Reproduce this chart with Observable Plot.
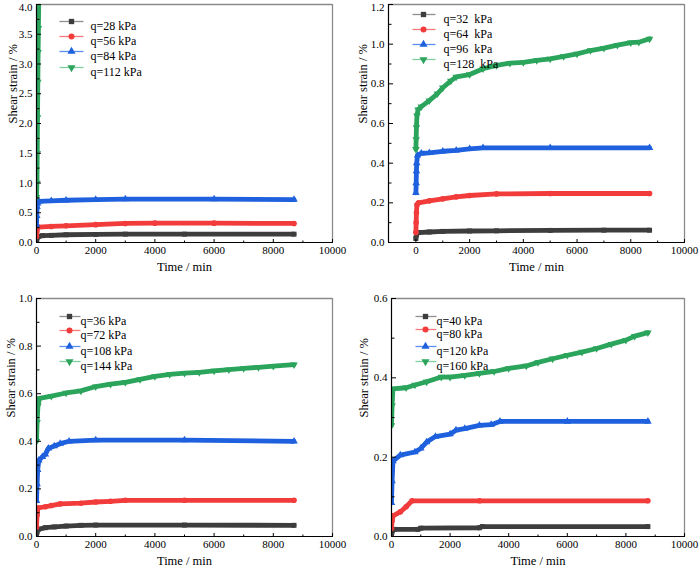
<!DOCTYPE html>
<html>
<head>
<meta charset="utf-8">
<script src="https://cdn.jsdelivr.net/npm/d3@7"></script>
<script src="https://cdn.jsdelivr.net/npm/@observablehq/plot@0.6"></script>
<style>
  body { margin: 0; background: #fff; }
  #wrap { position: relative; width: 700px; height: 569px; overflow: hidden; background: #fff; }
  .panel { position: absolute; }
  .panel svg { max-width: none; overflow: visible; }
</style>
</head>
<body>
<div id="wrap"></div>
<script>
// ---------- Data: [time (min), shear strain (%)] ----------
// Panel (a)
const a_q28 = [[0,0.0],[10,0.05],[30,0.09],[60,0.10],[200,0.115],[500,0.12],[1000,0.13],[2000,0.135],[3000,0.14],[5000,0.14],[8700,0.14]];
const a_q56 = [[0,0.10],[10,0.18],[30,0.24],[60,0.26],[500,0.27],[1000,0.28],[2000,0.30],[3000,0.32],[4000,0.325],[6000,0.325],[8700,0.32]];
const a_q84 = [[0,0.30],[10,0.45],[20,0.60],[40,0.66],[80,0.69],[500,0.70],[1000,0.71],[2000,0.72],[3000,0.73],[6000,0.73],[8700,0.72]];
const a_q112 = [[0,0.76],[15,1.0],[25,1.5],[35,2.1],[45,2.7],[55,3.2],[65,3.6],[75,4.0],[85,4.3]];
// Panel (b)
const b_q32 = [[0,0.02],[20,0.04],[100,0.05],[500,0.053],[1000,0.056],[2000,0.058],[3000,0.059],[5000,0.061],[7000,0.062],[8700,0.062]];
const b_q64 = [[0,0.05],[10,0.10],[20,0.15],[40,0.19],[100,0.20],[500,0.21],[1000,0.22],[1500,0.23],[2000,0.237],[3000,0.245],[5000,0.247],[8700,0.247]];
const b_q96 = [[0,0.25],[10,0.30],[20,0.36],[30,0.40],[60,0.44],[200,0.45],[500,0.452],[1000,0.46],[1500,0.465],[2000,0.472],[2500,0.477],[5000,0.477],[8700,0.477]];
const b_q128 = [[0,0.47],[10,0.52],[20,0.58],[40,0.64],[80,0.67],[200,0.685],[500,0.715],[800,0.75],[1000,0.78],[1300,0.815],[1500,0.835],[2000,0.847],[2500,0.876],[3000,0.893],[3500,0.904],[4000,0.908],[4500,0.918],[5000,0.926],[5500,0.938],[6000,0.951],[6500,0.968],[7000,0.98],[7500,0.995],[8000,1.008],[8300,1.01],[8700,1.027]];
// Panel (c)
const c_q36 = [[0,0.0],[20,0.02],[60,0.03],[300,0.037],[600,0.04],[1000,0.044],[1500,0.047],[2000,0.048],[5000,0.048],[8700,0.047]];
const c_q72 = [[0,0.04],[20,0.09],[50,0.12],[300,0.125],[500,0.13],[800,0.137],[1500,0.14],[2000,0.145],[2500,0.148],[3000,0.152],[5000,0.152],[8700,0.152]];
const c_q108 = [[0,0.15],[20,0.22],[40,0.28],[80,0.32],[200,0.335],[300,0.345],[400,0.37],[600,0.38],[800,0.39],[1100,0.40],[2000,0.405],[5000,0.405],[8700,0.40]];
const c_q144 = [[0,0.40],[20,0.48],[50,0.55],[100,0.58],[500,0.59],[1000,0.603],[1500,0.612],[2000,0.63],[2500,0.64],[3000,0.648],[3500,0.66],[4000,0.673],[4500,0.681],[5000,0.686],[5500,0.69],[6000,0.696],[6500,0.701],[7000,0.706],[7500,0.711],[8000,0.716],[8700,0.722]];
// Panel (d)
const d_q40 = [[0,0.0],[30,0.015],[100,0.018],[900,0.018],[1000,0.021],[3000,0.022],[3100,0.025],[8750,0.025]];
const d_q80 = [[0,0.02],[20,0.04],[50,0.052],[300,0.062],[500,0.075],[700,0.09],[3000,0.09],[8750,0.09]];
const d_q120 = [[0,0.085],[20,0.14],[50,0.19],[300,0.205],[800,0.213],[1000,0.222],[1200,0.238],[1500,0.252],[2000,0.258],[2200,0.268],[2500,0.272],[3000,0.28],[3400,0.282],[3700,0.29],[6000,0.29],[8750,0.29]];
const d_q160 = [[0,0.28],[20,0.33],[50,0.372],[500,0.375],[800,0.382],[1200,0.39],[1700,0.402],[2000,0.402],[2500,0.406],[3000,0.411],[3500,0.416],[4000,0.424],[4600,0.43],[5000,0.439],[5500,0.448],[6000,0.457],[6500,0.465],[7000,0.474],[7500,0.485],[8000,0.495],[8300,0.505],[8750,0.514]];

// Legend labels
const a_labels = ["q=28 kPa", "q=56 kPa", "q=84 kPa", "q=112 kPa"];
const b_labels = ["q=32  kPa", "q=64  kPa", "q=96  kPa", "q=128  kPa"];
const c_labels = ["q=36 kPa", "q=72 kPa", "q=108 kPa", "q=144 kPa"];
const d_labels = ["q=40 kPa", "q=80 kPa", "q=120 kPa", "q=160 kPa"];

// Tick values
const xMajor = [0, 2000, 4000, 6000, 8000, 10000];
const xMinor = [1000, 3000, 5000, 7000, 9000];
const a_yMajor = [0, 0.5, 1, 1.5, 2, 2.5, 3, 3.5, 4];
const a_yMinor = [0.25, 0.75, 1.25, 1.75, 2.25, 2.75, 3.25, 3.75];
const b_yMajor = [0, 0.2, 0.4, 0.6, 0.8, 1.0, 1.2];
const b_yMinor = [0.1, 0.3, 0.5, 0.7, 0.9, 1.1];
const c_yMajor = [0, 0.2, 0.4, 0.6, 0.8, 1.0];
const c_yMinor = [0.1, 0.3, 0.5, 0.7, 0.9];
const d_yMajor = [0, 0.2, 0.4, 0.6];
const d_yMinor = [0.1, 0.3, 0.5];

// ---------- Styling ----------
const triangleDown = {
  draw(context, size) {
    const y = -Math.sqrt(size / (Math.sqrt(3) * 3));
    context.moveTo(0, -y * 2);
    context.lineTo(-Math.sqrt(3) * y, y);
    context.lineTo(Math.sqrt(3) * y, y);
    context.closePath();
  }
};
const lineShape = { draw(context, l) { context.moveTo(0, 0); context.lineTo(0, -l); } };

const styles = [
  {color: "#3d3d3d", light: "#8f8f8f", symbol: "square"},
  {color: "#f23b3b", light: "#f7797a", symbol: "circle"},
  {color: "#1e60dd", light: "#5a8ff0", symbol: "triangle"},
  {color: "#2ba45c", light: "#7fcf9f", symbol: triangleDown}
];

const FONT = '"Liberation Serif", "Times New Roman", serif';

function makePanel(p) {
  const fw = p.width - p.ml - p.mr;
  const fh = p.height - p.mt - p.mb;
  const marks = [];
  // gray top/right frame
  marks.push(Plot.ruleY([p.yDomain[1]], {stroke: "#8a8a8a", strokeWidth: 1.3}));
  marks.push(Plot.ruleX([p.xDomain[1]], {stroke: "#8a8a8a", strokeWidth: 1.3}));
  // series
  p.series.forEach((s, i) => {
    const st = styles[i];
    marks.push(Plot.line(s, {x: d => d[0], y: d => d[1], stroke: st.color, strokeWidth: 4.8, clip: true}));
    marks.push(Plot.dot(s, {x: d => d[0], y: d => d[1], symbol: st.symbol, fill: st.color, r: 2.8, clip: true}));
  });
  // black left/bottom axis lines
  marks.push(Plot.ruleY([p.yDomain[0]], {stroke: "#000", strokeWidth: 1.2}));
  marks.push(Plot.ruleX([p.xDomain[0]], {stroke: "#000", strokeWidth: 1.2}));
  // inward ticks (top-anchored / right-anchored axes shifted onto the bottom / left edges)
  marks.push(Plot.axisX({anchor: "top", ticks: xMajor, tickSize: 4, fill: "none", dy: fh, label: null, stroke: "#000"}));
  marks.push(Plot.axisX({anchor: "top", ticks: xMinor, tickSize: 2.5, fill: "none", dy: fh, label: null, stroke: "#000"}));
  marks.push(Plot.axisY({anchor: "right", ticks: p.yMajor, tickSize: 4, fill: "none", dx: -fw, label: null, stroke: "#000"}));
  marks.push(Plot.axisY({anchor: "right", ticks: p.yMinor, tickSize: 2.5, fill: "none", dx: -fw, label: null, stroke: "#000"}));
  // tick labels
  marks.push(Plot.axisX({anchor: "bottom", ticks: xMajor, tickSize: 0, tickPadding: 4, tickFormat: d => String(d), label: null}));
  const yTop = p.yMajor[p.yMajor.length - 1];
  const yRest = p.topShift ? p.yMajor.slice(0, -1) : p.yMajor;
  marks.push(Plot.axisY({anchor: "left", ticks: yRest, tickSize: 0, tickPadding: 4, tickFormat: d => d.toFixed(1), label: null}));
  if (p.topShift) {
    marks.push(Plot.axisY({anchor: "left", ticks: [yTop], tickSize: 0, tickPadding: 4, tickFormat: d => d.toFixed(1), label: null, dy: p.topShift}));
  }
  // axis titles
  marks.push(Plot.text(["Time / min"], {text: d => d, frameAnchor: "bottom", dy: 28, fontSize: 12.5}));
  marks.push(Plot.text(["Shear strain / %"], {text: d => d, frameAnchor: "left", dx: p.yTitleDx, rotate: -90, fontSize: 12.5}));
  // legend
  const L = p.legend;
  p.labels.forEach((lab, i) => {
    const st = styles[i];
    const dy = L.rows[i];
    marks.push(Plot.vector([0], {frameAnchor: "top-left", dx: L.lineX, dy, length: L.len, rotate: 90, anchor: "start", shape: lineShape, stroke: st.light, strokeWidth: 1.3, strokeLinecap: "butt"}));
    marks.push(Plot.dot([0], {frameAnchor: "top-left", dx: L.markX, dy, symbol: st.symbol, fill: st.color, r: 3}));
    marks.push(Plot.text([lab], {text: d => d, frameAnchor: "top-left", dx: L.textX, dy, textAnchor: "start", fontSize: 12}));
  });

  const chart = Plot.plot({
    width: p.width,
    height: p.height,
    marginLeft: p.ml,
    marginRight: p.mr,
    marginTop: p.mt,
    marginBottom: p.mb,
    x: {domain: p.xDomain},
    y: {domain: p.yDomain},
    style: {fontFamily: FONT, fontSize: "11px", color: "#000", background: "transparent"},
    marks
  });
  const div = document.createElement("div");
  div.className = "panel";
  div.style.left = p.left + "px";
  div.style.top = p.top + "px";
  div.appendChild(chart);
  document.getElementById("wrap").appendChild(div);
}

makePanel({
  left: 0, top: 0, width: 350, height: 285, ml: 36, mr: 18, mt: 4, mb: 43, topShift: 3,
  xDomain: [0, 10000], yDomain: [0, 4], yMajor: a_yMajor, yMinor: a_yMinor, yTitleDx: -24,
  series: [a_q28, a_q56, a_q84, a_q112], labels: a_labels,
  legend: {lineX: 23, len: 24, markX: 35, textX: 54, rows: [17, 32, 47, 63]}
});
makePanel({
  left: 350, top: 0, width: 350, height: 285, ml: 38, mr: 16, mt: 4, mb: 43, topShift: 3,
  xDomain: [-1020, 10000], yDomain: [0, 1.2], yMajor: b_yMajor, yMinor: b_yMinor, yTitleDx: -26,
  series: [b_q32, b_q64, b_q96, b_q128], labels: b_labels,
  legend: {lineX: 24, len: 23, markX: 35, textX: 55, rows: [10, 25, 40, 55]}
});
makePanel({
  left: 0, top: 285, width: 350, height: 284, ml: 36, mr: 18, mt: 13, mb: 33,
  xDomain: [0, 10000], yDomain: [0, 1.0], yMajor: c_yMajor, yMinor: c_yMinor, yTitleDx: -26,
  series: [c_q36, c_q72, c_q108, c_q144], labels: c_labels,
  legend: {lineX: 23, len: 21, markX: 33, textX: 44, rows: [18, 32, 48, 63]}
});
makePanel({
  left: 350, top: 285, width: 350, height: 284, ml: 41, mr: 16, mt: 13, mb: 33,
  xDomain: [0, 10000], yDomain: [0, 0.6], yMajor: d_yMajor, yMinor: d_yMinor, yTitleDx: -28,
  series: [d_q40, d_q80, d_q120, d_q160], labels: d_labels,
  legend: {lineX: 24, len: 21, markX: 34, textX: 45, rows: [18, 31, 48, 63]}
});
</script>
</body>
</html>
